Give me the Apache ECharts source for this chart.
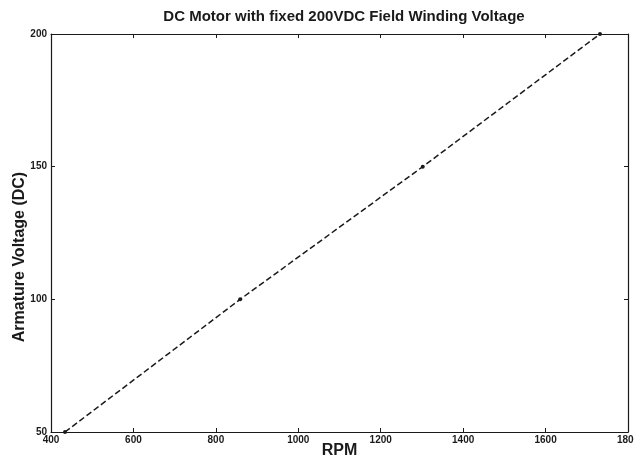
<!DOCTYPE html>
<html>
<head>
<meta charset="utf-8">
<script src="https://cdn.jsdelivr.net/npm/echarts@6/dist/echarts.min.js"></script>
<style>
    html, body { margin: 0; padding: 0; background: #fff; }
    #chart { width: 634px; height: 460px; }
</style>
</head>
<body>
<div id="chart"></div>
<script>
// data
const rpm = [434, 859, 1302, 1732];
const armatureVolts = [50, 100, 150, 200];
const xTicks = [400, 600, 800, 1000, 1200, 1400, 1600, 1800];
const yTicks = [50, 100, 150, 200];

const font = '"Liberation Sans", Arial, sans-serif';
const ink = "#1a1a1a";

const points = rpm.map((r, i) => [r, armatureVolts[i]]);

const boxAxisLine = { show: true, lineStyle: { color: ink, width: 1.2 } };
const innerTick = { show: true, inside: true, length: 4, lineStyle: { color: ink } };
const plain = (v) => String(v);

const chart = echarts.init(document.getElementById("chart"));
chart.setOption({
    animation: false,
    backgroundColor: "#fff",
    title: {
        text: "DC Motor with fixed 200VDC Field Winding Voltage",
        left: 339,
        textAlign: "center",
        top: 4,
        textStyle: { fontFamily: font, fontWeight: "bold", fontSize: 15, color: ink },
    },
    grid: { left: 51, right: 6, top: 34, bottom: 28, outerBoundsMode: "none", containLabel: false },
    xAxis: [
        {
            type: "value",
            min: xTicks[0],
            max: xTicks[xTicks.length - 1],
            interval: 200,
            name: "RPM",
            nameLocation: "middle",
            nameGap: 11,
            nameMoveOverlap: false,
            nameTextStyle: { fontFamily: font, fontWeight: "bold", fontSize: 16, color: ink },
            axisLine: boxAxisLine,
            axisTick: innerTick,
            splitLine: { show: false },
            axisLabel: { fontFamily: font, fontWeight: "bold", fontSize: 10, color: ink, margin: 3, formatter: plain },
        },
        {
            type: "value",
            position: "top",
            min: xTicks[0],
            max: xTicks[xTicks.length - 1],
            interval: 200,
            axisLine: boxAxisLine,
            axisTick: innerTick,
            splitLine: { show: false },
            axisLabel: { show: false },
        },
    ],
    yAxis: [
        {
            type: "value",
            min: yTicks[0],
            max: yTicks[yTicks.length - 1],
            interval: 50,
            name: "Armature Voltage (DC)",
            nameLocation: "middle",
            nameGap: 23,
            nameMoveOverlap: false,
            nameRotate: 90,
            nameTextStyle: {
                fontFamily: font, fontWeight: "bold", fontSize: 16, color: ink,
                padding: [0, 48, 0, 0],
            },
            axisLine: boxAxisLine,
            axisTick: innerTick,
            splitLine: { show: false },
            axisLabel: { fontFamily: font, fontWeight: "bold", fontSize: 10, color: ink, margin: 4, formatter: plain },
        },
        {
            type: "value",
            position: "right",
            min: yTicks[0],
            max: yTicks[yTicks.length - 1],
            interval: 50,
            axisLine: boxAxisLine,
            axisTick: innerTick,
            splitLine: { show: false },
            axisLabel: { show: false },
        },
    ],
    series: [
        {
            type: "line",
            data: points,
            symbol: "circle",
            symbolSize: 4,
            itemStyle: { color: ink },
            lineStyle: { color: ink, width: 1.5, type: [6, 3] },
            clip: false,
        },
    ],
});
</script>
</body>
</html>
